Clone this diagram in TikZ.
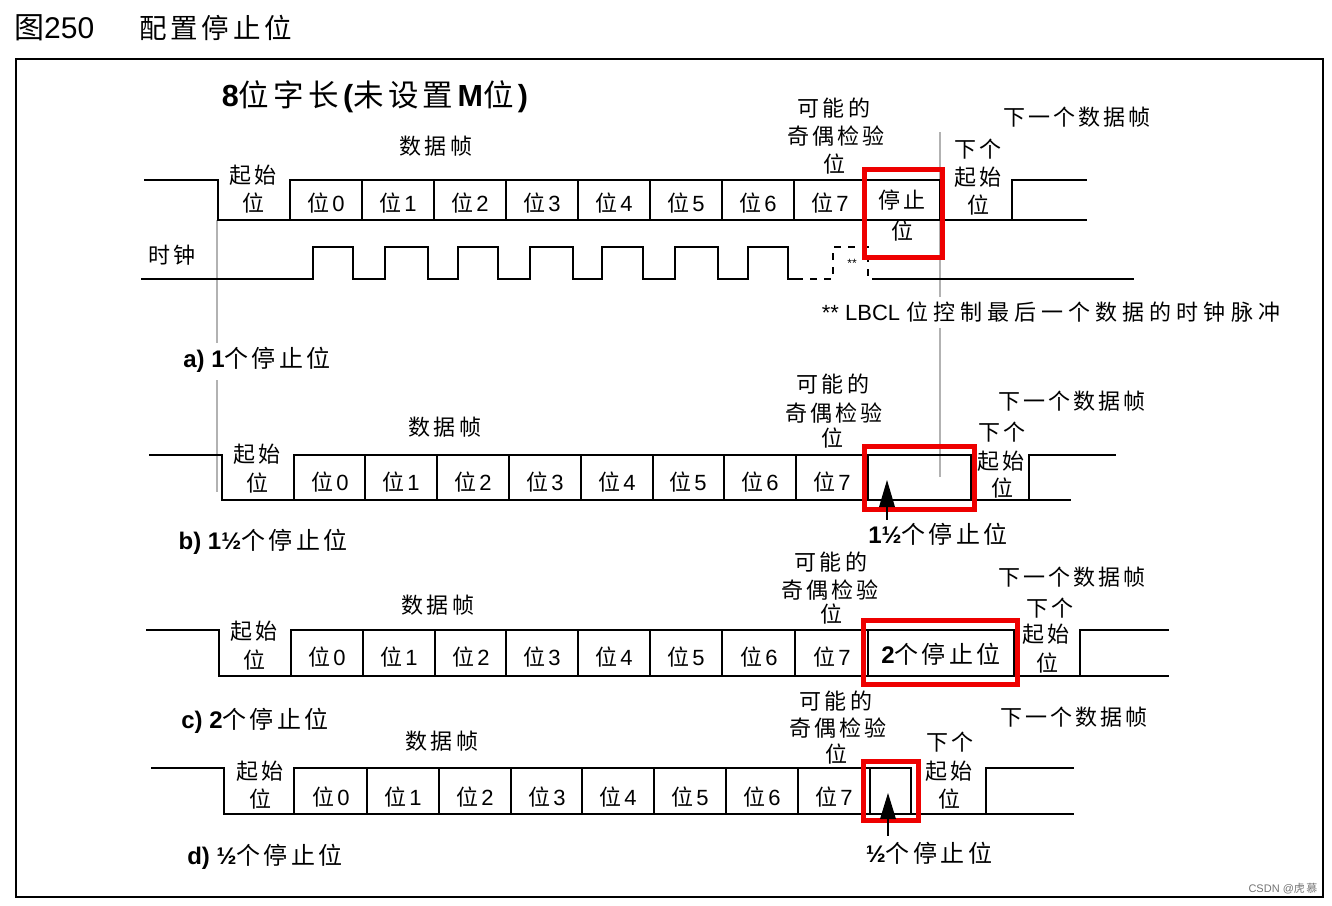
\documentclass[tikz,border=0pt]{standalone}
\usepackage{fontspec}
\setmainfont{Liberation Sans}
\newfontfamily\cjk[LetterSpace=14]{Noto Sans CJK SC}
\newfontfamily\cjkw[LetterSpace=23]{Noto Sans CJK SC}
\newcommand{\zh}[1]{{\cjk #1}}
\newcommand{\zhw}[1]{{\cjkw #1}}
\newcommand{\fs}[1]{\fontsize{#1}{#1}\selectfont}
\newcommand{\wei}[1]{\zh{位}\hspace{3pt}#1}
\definecolor{boxred}{RGB}{238,0,0}
\begin{document}
\begin{tikzpicture}[x=1pt,y=-1pt,
  sig/.style={line width=1.8pt},
  dsig/.style={line width=1.8pt, dash pattern=on 7pt off 7pt},
  guide/.style={line width=1.3pt, draw=black!30},
  redbox/.style={draw=boxred, line width=5pt},
  lbl/.style={inner sep=0pt, font=\fs{22}},
  capt/.style={inner sep=0pt, font=\fs{24}}]
\useasboundingbox (0,0) rectangle (1332,905);
% title and frame
\node[inner sep=0pt, anchor=west, font=\fs{30}] (title1) at (14,28) {\zh{图}250};
\node[inner sep=0pt, anchor=west, font=\fs{27.5}] (title2) at (139,28) {\zh{配置停止位}};
\draw[line width=2pt] (16,59) rectangle (1323,897);
\node[inner sep=0pt, font=\fs{30.5}] (head) at (375,97) {\textbf{8}\zh{位字长}\textbf{(}\zh{未设置}\textbf{M}\zh{位}\textbf{)}};
% guide lines
\draw[guide] (217,220) -- (217,343);
\draw[guide] (217,380) -- (217,492);
\draw[guide] (940,132) -- (940,297);
\draw[guide] (940,328) -- (940,477);

% ===== section a =====
\draw[sig] (144,180) -- (218,180) -- (218,220) -- (1087,220);
\draw[sig] (290,220) -- (290,180) -- (940,180) -- (940,220);
\foreach \x in {362,434,506,578,650,722,794,866} \draw[sig] (\x,180) -- (\x,220);
\draw[sig] (1012,220) -- (1012,180) -- (1087,180);
% clock
\draw[sig] (141,279) -- (313,279) -- (313,247) -- (353,247) -- (353,279)
  -- (385,279) -- (385,247) -- (428,247) -- (428,279)
  -- (458,279) -- (458,247) -- (498,247) -- (498,279)
  -- (530,279) -- (530,247) -- (573,247) -- (573,279)
  -- (602,279) -- (602,247) -- (643,247) -- (643,279)
  -- (675,279) -- (675,247) -- (718,247) -- (718,279)
  -- (748,279) -- (748,247) -- (788,247) -- (788,279) -- (796,279);
\draw[dsig] (796,279) -- (833,279) -- (833,247) -- (868,247) -- (868,279) -- (875,279);
\draw[sig] (875,279) -- (1134,279);
\node[inner sep=0pt, font=\fs{12}] (a-ast) at (852,263) {**};
\node[lbl] (a-clk) at (172,255) {\zh{时钟}};
\node[lbl] (a-frame) at (436,146) {\zh{数据帧}};
\node[lbl] (a-st1) at (253,175) {\zh{起始}};
\node[lbl] (a-st2) at (253,203) {\zh{位}};
\node[lbl] (a-b0) at (326,203) {\wei{0}};
\node[lbl] (a-b1) at (398,203) {\wei{1}};
\node[lbl] (a-b2) at (470,203) {\wei{2}};
\node[lbl] (a-b3) at (542,203) {\wei{3}};
\node[lbl] (a-b4) at (614,203) {\wei{4}};
\node[lbl] (a-b5) at (686,203) {\wei{5}};
\node[lbl] (a-b6) at (758,203) {\wei{6}};
\node[lbl] (a-b7) at (830,203) {\wei{7}};
\node[lbl] (a-p1) at (834,108) {\zh{可能的}};
\node[lbl] (a-p2) at (836,136) {\zh{奇偶检验}};
\node[lbl] (a-p3) at (834,164) {\zh{位}};
\node[lbl] (a-s1) at (902,200) {\zh{停止}};
\node[lbl] (a-s2) at (902,231) {\zh{位}};
\node[lbl] (a-n1) at (978,149) {\zh{下个}};
\node[lbl] (a-n2) at (978,177) {\zh{起始}};
\node[lbl] (a-n3) at (978,205) {\zh{位}};
\node[lbl] (a-next) at (1077,117) {\zh{下一个数据帧}};
\node[lbl] (a-note) at (1051,312) {** LBCL \zhw{位控制最后一个数据的时钟脉冲}};
\draw[redbox] (864.5,169) rectangle (942.5,257);

% ===== section b =====
\node[capt] (a-cap) at (257,360) {\textbf{a) 1}\zh{个停止位}};
\draw[sig] (149,455) -- (222,455) -- (222,500) -- (1071,500);
\draw[sig] (294,500) -- (294,455) -- (971,455) -- (971,500);
\foreach \x in {365,437,509,581,653,724,796,868} \draw[sig] (\x,455) -- (\x,500);
\draw[sig] (1029,500) -- (1029,455) -- (1116,455);
\node[lbl] (b-frame) at (445,427) {\zh{数据帧}};
\node[lbl] (b-st1) at (257,454) {\zh{起始}};
\node[lbl] (b-st2) at (257,483) {\zh{位}};
\node[lbl] (b-b0) at (330,482) {\wei{0}};
\node[lbl] (b-b1) at (401,482) {\wei{1}};
\node[lbl] (b-b2) at (473,482) {\wei{2}};
\node[lbl] (b-b3) at (545,482) {\wei{3}};
\node[lbl] (b-b4) at (617,482) {\wei{4}};
\node[lbl] (b-b5) at (688,482) {\wei{5}};
\node[lbl] (b-b6) at (760,482) {\wei{6}};
\node[lbl] (b-b7) at (832,482) {\wei{7}};
\node[lbl] (b-p1) at (833,384) {\zh{可能的}};
\node[lbl] (b-p2) at (834,413) {\zh{奇偶检验}};
\node[lbl] (b-p3) at (832,438) {\zh{位}};
\node[lbl] (b-n1) at (1002,432) {\zh{下个}};
\node[lbl] (b-n2) at (1001,461) {\zh{起始}};
\node[lbl] (b-n3) at (1002,488) {\zh{位}};
\node[lbl] (b-next) at (1072,401) {\zh{下一个数据帧}};
\draw[redbox] (864,446) rectangle (974,509);
\fill (887,480) -- (879,507) -- (895,507) -- cycle;
\draw[line width=1.5pt] (887,507) -- (887,520);
\node[capt] (b-stop) at (938,534) {\textbf{1½}\zh{个停止位}};

% ===== section c =====
\node[capt] (b-cap) at (263,542) {\textbf{b) 1½}\zh{个停止位}};
\draw[sig] (146,630) -- (219,630) -- (219,676) -- (1169,676);
\draw[sig] (291,676) -- (291,630) -- (1014,630) -- (1014,676);
\foreach \x in {363,435,506,578,650,722,795,868} \draw[sig] (\x,630) -- (\x,676);
\draw[sig] (1080,676) -- (1080,630) -- (1169,630);
\node[lbl] (c-frame) at (438,605) {\zh{数据帧}};
\node[lbl] (c-st1) at (254,631) {\zh{起始}};
\node[lbl] (c-st2) at (254,660) {\zh{位}};
\node[lbl] (c-b0) at (327,657) {\wei{0}};
\node[lbl] (c-b1) at (399,657) {\wei{1}};
\node[lbl] (c-b2) at (471,657) {\wei{2}};
\node[lbl] (c-b3) at (542,657) {\wei{3}};
\node[lbl] (c-b4) at (614,657) {\wei{4}};
\node[lbl] (c-b5) at (686,657) {\wei{5}};
\node[lbl] (c-b6) at (759,657) {\wei{6}};
\node[lbl] (c-b7) at (832,657) {\wei{7}};
\node[lbl] (c-p1) at (831,562) {\zh{可能的}};
\node[lbl] (c-p2) at (830,590) {\zh{奇偶检验}};
\node[lbl] (c-p3) at (831,614) {\zh{位}};
\node[lbl] (c-n1) at (1050,608) {\zh{下个}};
\node[lbl] (c-n2) at (1046,634) {\zh{起始}};
\node[lbl] (c-n3) at (1047,663) {\zh{位}};
\node[lbl] (c-next) at (1072,577) {\zh{下一个数据帧}};
\node[capt] (c-stop) at (941,654) {\textbf{2}\zh{个停止位}};
\draw[redbox] (863.5,620) rectangle (1017,684);

% ===== section d =====
\node[capt] (c-cap) at (255,721) {\textbf{c) 2}\zh{个停止位}};
\draw[sig] (151,768) -- (224,768) -- (224,814) -- (1074,814);
\draw[sig] (294,814) -- (294,768) -- (911,768) -- (911,814);
\foreach \x in {367,439,511,582,654,726,798,870} \draw[sig] (\x,768) -- (\x,814);
\draw[sig] (986,814) -- (986,768) -- (1074,768);
\node[lbl] (d-frame) at (442,741) {\zh{数据帧}};
\node[lbl] (d-st1) at (260,771) {\zh{起始}};
\node[lbl] (d-st2) at (260,799) {\zh{位}};
\node[lbl] (d-b0) at (331,797) {\wei{0}};
\node[lbl] (d-b1) at (403,797) {\wei{1}};
\node[lbl] (d-b2) at (475,797) {\wei{2}};
\node[lbl] (d-b3) at (547,797) {\wei{3}};
\node[lbl] (d-b4) at (618,797) {\wei{4}};
\node[lbl] (d-b5) at (690,797) {\wei{5}};
\node[lbl] (d-b6) at (762,797) {\wei{6}};
\node[lbl] (d-b7) at (834,797) {\wei{7}};
\node[lbl] (d-p1) at (836,701) {\zh{可能的}};
\node[lbl] (d-p2) at (838,728) {\zh{奇偶检验}};
\node[lbl] (d-p3) at (836,754) {\zh{位}};
\node[lbl] (d-n1) at (950,742) {\zh{下个}};
\node[lbl] (d-n2) at (949,771) {\zh{起始}};
\node[lbl] (d-n3) at (949,799) {\zh{位}};
\node[lbl] (d-next) at (1074,717) {\zh{下一个数据帧}};
\draw[redbox] (863,761) rectangle (918,820);
\fill (888,793) -- (880,819) -- (896,819) -- cycle;
\draw[line width=1.5pt] (888,819) -- (888,836);
\node[capt] (d-stop) at (929,853) {\textbf{½}\zh{个停止位}};
\node[capt] (d-cap) at (265,857) {\textbf{d) ½}\zh{个停止位}};

% watermark
\node[inner sep=0pt, font=\fs{11}, text=black!55] (wm) at (1283,889) {CSDN @\zh{虎慕}};
\end{tikzpicture}
\end{document}
